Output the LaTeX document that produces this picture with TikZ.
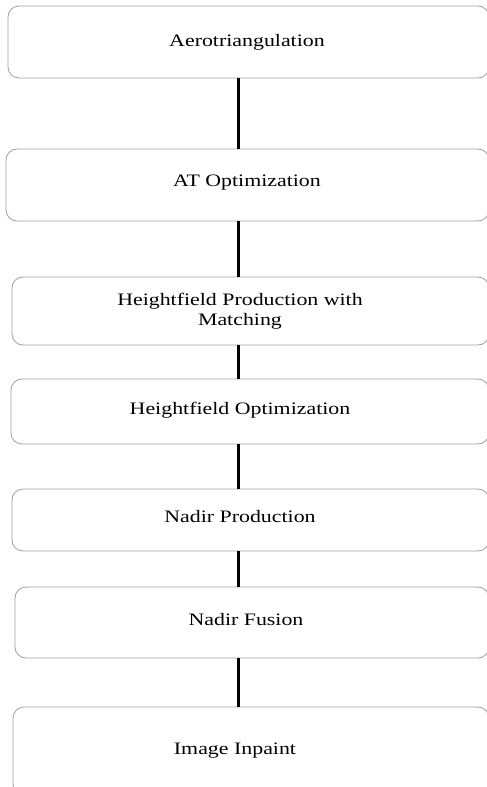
\documentclass[tikz,border=0pt]{standalone}
\usepackage{fontspec}
\setmainfont{Liberation Serif}[FakeStretch=1.25]
\tikzset{x=1pt, y=-1pt,
stage/.style={ % the rounded boxes
draw=gray!75,
line width=0.8pt,
rounded corners=11pt,
inner sep=0pt},
link/.style={draw, line width=3pt}, % the thick joins
every label/.style={font=\fontsize{17.5}{20}\selectfont, align=center}}

\begin{document}
\begin{tikzpicture}
\clip (0,0) rectangle (487,787);
\coordinate (axis) at (238.5,0);
\node[stage, minimum width=481pt, minimum height=72pt,
  label={[xshift=-1.5pt]center:Aerotriangulation}] (aero) at (248.5,42) {};
\node[stage, minimum width=483pt, minimum height=72pt,
  label={[xshift=-0.5pt,yshift=2pt]center:AT Optimization}] (atopt) at (247.5,185) {};
\node[stage, minimum width=477pt, minimum height=68pt,
  label={[xshift=-10.5pt]center:{Heightfield Production with\\Matching}}] (hfprod) at (250.5,311) {};
\node[stage, minimum width=478pt, minimum height=65pt,
  label={[xshift=-10pt,yshift=1.5pt]center:Heightfield Optimization}] (hfopt) at (250,411.5) {};
\node[stage, minimum width=477pt, minimum height=62pt,
  label={[xshift=-10.5pt,yshift=3pt]center:Nadir Production}] (nprod) at (250.5,520) {};
\node[stage, minimum width=474pt, minimum height=71pt,
  label={[xshift=-6pt,yshift=2.5pt]center:Nadir Fusion}] (nfus) at (252,622.5) {};
\node[stage, minimum width=476pt, minimum height=88pt,
  label={[xshift=-16pt]center:Image Inpaint}] (inpaint) at (251,751) {};

\draw[link] (aero.south -| axis) -- (atopt.north -| axis);
\draw[link] (atopt.south -| axis) -- (hfprod.north -| axis);
\draw[link] (hfprod.south -| axis) -- (hfopt.north -| axis);
\draw[link] (hfopt.south -| axis) -- (nprod.north -| axis);
\draw[link] (nprod.south -| axis) -- (nfus.north -| axis);
\draw[link] (nfus.south -| axis) -- (inpaint.north -| axis);
\end{tikzpicture}
\end{document}
